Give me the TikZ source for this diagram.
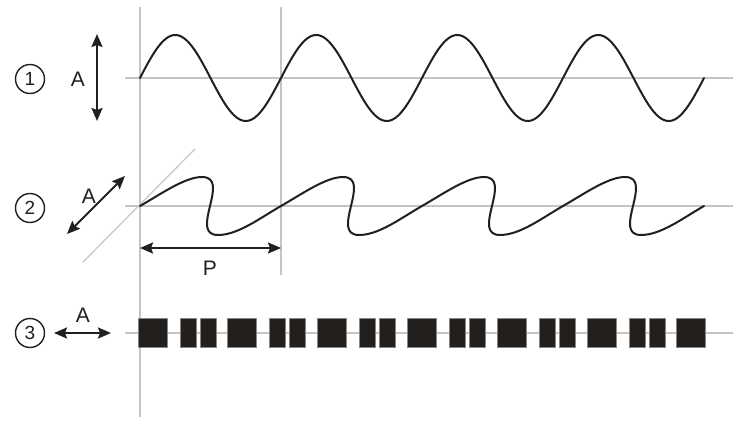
\documentclass[tikz,border=0pt]{standalone}
\usepackage{fontspec}
\setmainfont{Liberation Sans}
\usetikzlibrary{arrows.meta}
\definecolor{guide}{HTML}{C4C4C4}
\definecolor{ink}{HTML}{231F1C}
\definecolor{edge}{HTML}{8A8683}
\tikzset{
  guideline/.style={draw=guide, line width=1.5pt},
  wave/.style={draw=ink, line width=2pt, line cap=round, line join=round},
  dimarrow/.style={draw=ink, line width=2pt, {Stealth[length=13pt,width=11pt,inset=2pt]}-{Stealth[length=13pt,width=11pt,inset=2pt]}},
  numcircle/.style={circle, draw=ink, line width=1.4pt, minimum size=29pt, inner sep=0pt, font=\fontsize{19}{19}\selectfont, text=ink},
  lbl/.style={font=\fontsize{21}{21}\selectfont, text=ink, inner sep=0pt},
  block/.style={fill=ink, draw=edge, line width=0.7pt}
}
\begin{document}
\begin{tikzpicture}[x=1pt, y=-1pt]
\useasboundingbox (0,0) rectangle (750,425);
% guide lines
\draw[guideline] (140,7) -- (140,417);
\draw[guideline] (281,7) -- (281,275);
\draw[guideline] (125,78) -- (733,78);
\draw[guideline] (125,206) -- (733,206);
\draw[guideline] (125,333) -- (733,333);
\draw[guideline, line width=1.2pt] (83,262) -- (195,149);

% row 1
\node[numcircle] (c1) at (30,79) {1};
\node[lbl] (a1) at (78,79) {A};
\coordinate (t1) at (97,34);
\coordinate (b1) at (97,121);
\draw[dimarrow] (t1) -- (b1);
\draw[wave] plot[domain=140:704, samples=241, smooth] (\x, {78-43*sin((\x-140)/141*360)});

% row 2
\node[numcircle] (c2) at (30,208) {2};
\node[lbl] (a2) at (89,196) {A};
\coordinate (t2) at (125,176);
\coordinate (b2) at (67,234);
\draw[dimarrow] (b2) -- (t2);
\foreach \k in {0,1,2,3}{
  \pgfmathsetmacro{\xo}{140+141*\k}
  \draw[wave] (\xo,206) .. controls ({\xo+21},194) and ({\xo+45},177) .. ({\xo+62},177)
    .. controls ({\xo+92},177) and ({\xo+48},235) .. ({\xo+78},235)
    .. controls ({\xo+98},235) and ({\xo+120},218) .. ({\xo+141},206);
}
\coordinate (p1) at (140,248);
\coordinate (p2) at (281,248);
\draw[dimarrow] (p1) -- (p2);
\node[lbl] (plbl) at (210,268) {P};

% row 3
\node[numcircle] (c3) at (30,333) {3};
\node[lbl] (a3) at (83,315) {A};
\coordinate (l3) at (54,333);
\coordinate (r3) at (111,333);
\draw[dimarrow] (l3) -- (r3);
\foreach \s in {0,...,6}{
  \pgfmathsetmacro{\xs}{138+89.8*\s}
  \draw[block] (\xs,318.5) rectangle ({\xs+29},347.5);
}
\foreach \s in {0,...,5}{
  \pgfmathsetmacro{\xs}{138+89.8*\s}
  \draw[block] ({\xs+42},318.5) rectangle ({\xs+58},347.5);
  \draw[block] ({\xs+62},318.5) rectangle ({\xs+78},347.5);
}
\end{tikzpicture}
\end{document}
